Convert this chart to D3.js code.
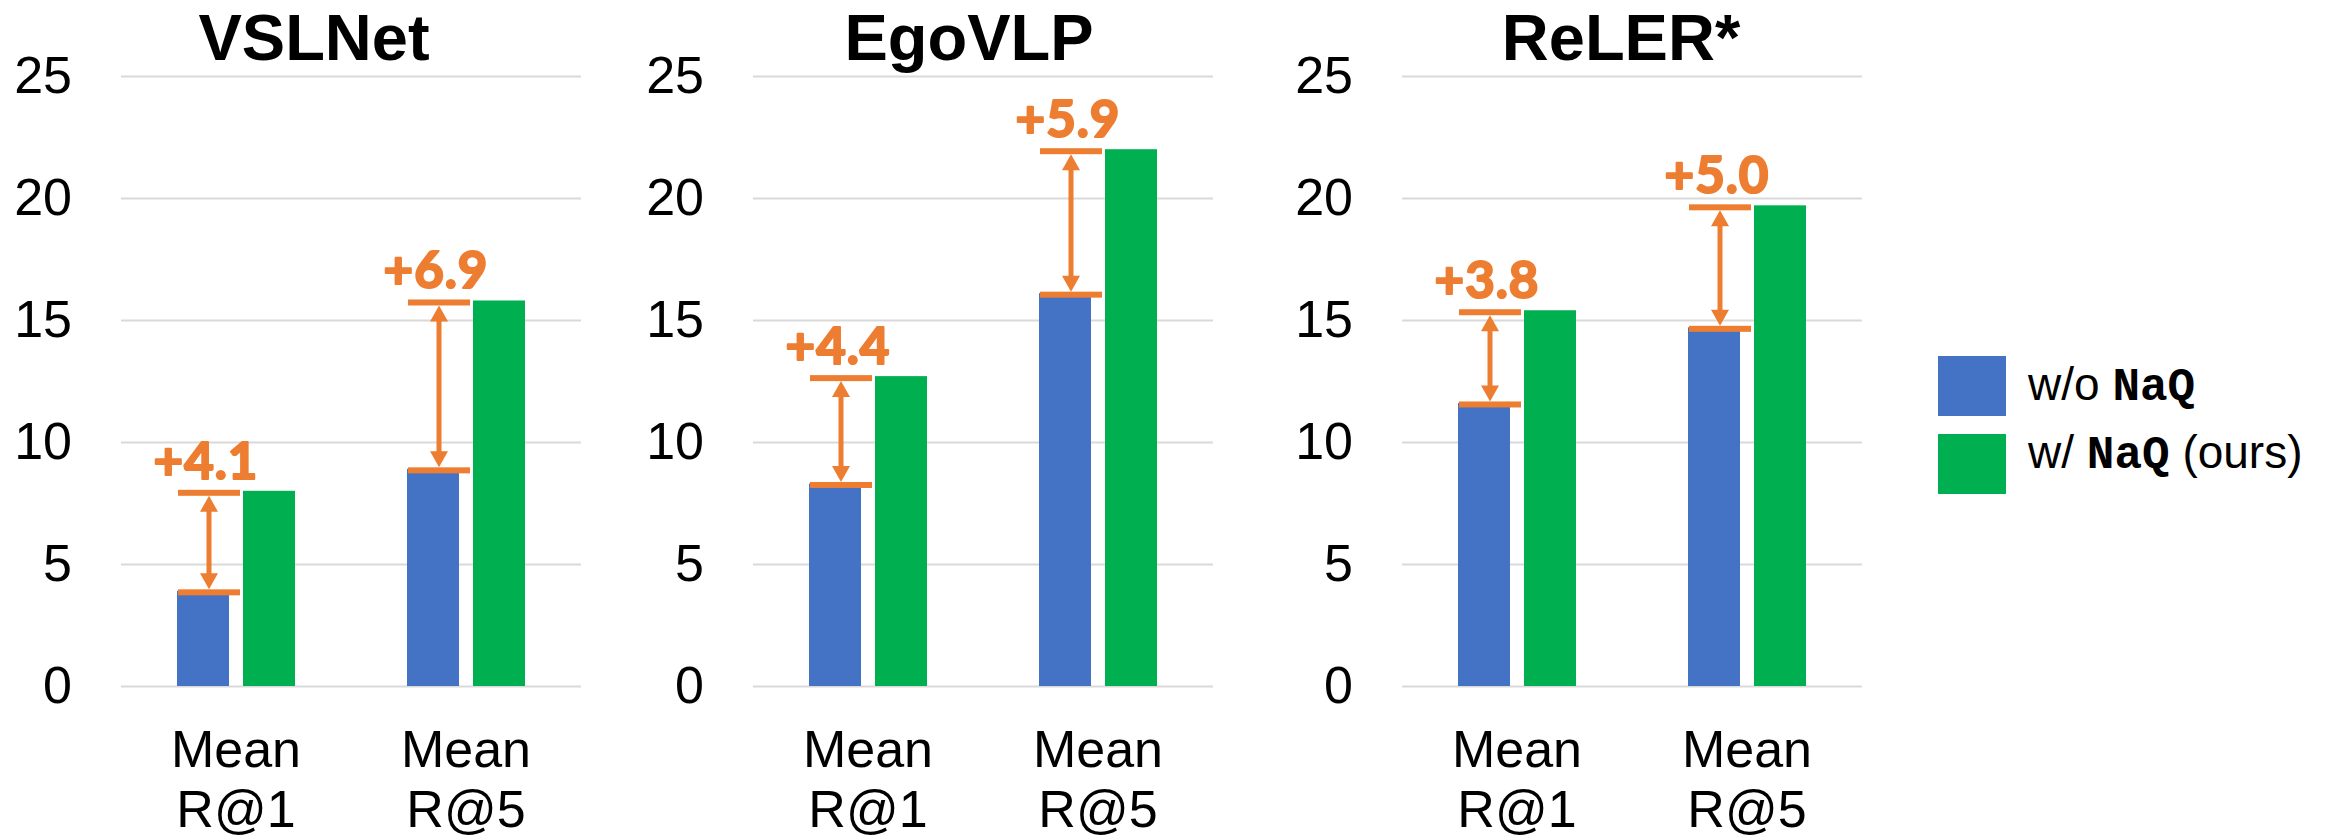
<!DOCTYPE html>
<html>
<head>
<meta charset="utf-8">
<script src="https://cdn.jsdelivr.net/npm/d3@7"></script>
<style>
  html, body { margin: 0; padding: 0; background: #ffffff; }
  svg { display: block; }
</style>
</head>
<body>
<svg id="chart" width="2334" height="839"></svg>
<script>
// ---- data ----
const models = ["VSLNet", "EgoVLP", "ReLER*"];
const metrics = ["Mean R@1", "Mean R@5"];
const seriesNames = ["w/o NaQ", "w/ NaQ (ours)"];
const withoutNaQ = [[3.9, 8.9], [8.3, 16.1], [11.6, 14.7]];
const withNaQ = [[8.0, 15.8], [12.7, 22.0], [15.4, 19.7]];
const gainLabels = [["+4.1", "+6.9"], ["+4.4", "+5.9"], ["+3.8", "+5.0"]];
const yTicks = [0, 5, 10, 15, 20, 25];

// ---- styling / layout ----
const W = 2334, H = 839;
const panelLeft = [121, 753, 1402];
const panelWidth = 460;
const titleDx = [-37, -14, -11];
const colors = { blue: "#4472C4", green: "#00B050", orange: "#ED7D31", grid: "#D9D9D9" };
const sansFont = "Arial, 'Liberation Sans', Helvetica, sans-serif";

const svg = d3.select("#chart");
svg.append("rect").attr("width", W).attr("height", H).attr("fill", "#fff");

const y = d3.scaleLinear().domain([0, 25]).range([686, 76]);
const xBand = d3.scaleBand().domain(metrics).range([0, panelWidth]).paddingInner(0).paddingOuter(0);
const groupHalf = 59;
const xInner = d3.scaleBand().domain(seriesNames)
  .range([xBand.bandwidth() / 2 - groupHalf, xBand.bandwidth() / 2 + groupHalf])
  .paddingInner(0.212).paddingOuter(0);
const seriesColor = d3.scaleOrdinal().domain(seriesNames).range([colors.blue, colors.green]);

models.forEach((model, mi) => {
  const g = svg.append("g").attr("transform", `translate(${panelLeft[mi]},0)`);

  // y axis with gridlines
  const axis = d3.axisLeft(y).tickValues(yTicks).tickSize(-panelWidth).tickPadding(49).tickFormat(d3.format("d"));
  const ag = g.append("g").call(axis);
  ag.select(".domain").remove();
  ag.selectAll(".tick line").attr("stroke", colors.grid).attr("stroke-width", 2);
  ag.selectAll(".tick text")
    .attr("fill", "#000")
    .style("font-family", sansFont)
    .style("font-size", "52px")
    .attr("dy", "0.31em");

  // title
  g.append("text")
    .attr("x", panelWidth / 2 + titleDx[mi])
    .attr("y", 60)
    .attr("text-anchor", "middle")
    .style("font-family", sansFont)
    .style("font-weight", "bold")
    .style("font-size", "65px")
    .attr("fill", "#000")
    .text(model);

  // bars
  metrics.forEach((metric, ci) => {
    const vals = [withoutNaQ[mi][ci], withNaQ[mi][ci]];
    const cg = g.append("g").attr("transform", `translate(${xBand(metric)},0)`);
    cg.selectAll("rect.bar")
      .data(seriesNames.map((s, si) => ({ s, v: vals[si] })))
      .join("rect")
      .attr("class", "bar")
      .attr("x", d => xInner(d.s))
      .attr("y", d => y(d.v))
      .attr("width", xInner.bandwidth())
      .attr("height", d => y(0) - y(d.v))
      .attr("fill", d => seriesColor(d.s));

    // category label
    const parts = metric.split(" ");
    const lbl = cg.append("text")
      .attr("text-anchor", "middle")
      .style("font-family", sansFont)
      .style("font-size", "52px")
      .attr("fill", "#000");
    lbl.append("tspan").attr("x", xBand.bandwidth() / 2).attr("y", 767).text(parts[0]);
    lbl.append("tspan").attr("x", xBand.bandwidth() / 2).attr("y", 827).text(parts[1]);

    // gain annotation
    const bl = xInner(seriesNames[0]);
    const lx0 = bl + 1, lx1 = bl + 63;
    const ax = (lx0 + lx1) / 2;
    const yLow = y(vals[0]) + 1.5;
    const yHigh = y(vals[1]) + 2;
    const th = 6;
    [yLow, yHigh].forEach(yy => {
      cg.append("rect")
        .attr("x", lx0).attr("y", yy - th / 2)
        .attr("width", lx1 - lx0).attr("height", th)
        .attr("fill", colors.orange);
    });
    const upTip = yHigh + th / 2;
    const downTip = yLow - th / 2;
    const headH = 16, headW = 18;
    cg.append("line")
      .attr("x1", ax).attr("x2", ax)
      .attr("y1", upTip + headH - 1).attr("y2", downTip - headH + 1)
      .attr("stroke", colors.orange).attr("stroke-width", 5);
    cg.append("path")
      .attr("d", `M${ax},${upTip} L${ax - headW / 2},${upTip + headH} L${ax + headW / 2},${upTip + headH} Z`)
      .attr("fill", colors.orange);
    cg.append("path")
      .attr("d", `M${ax},${downTip} L${ax - headW / 2},${downTip - headH} L${ax + headW / 2},${downTip - headH} Z`)
      .attr("fill", colors.orange);
    cg.append("text")
      .attr("x", ax - 3)
      .attr("y", yHigh - th / 2 - 11)
      .attr("text-anchor", "middle")
      .style("font-family", "Lato, 'Open Sans', sans-serif")
      .style("font-weight", "bold")
      .style("font-size", "51px")
      .style("letter-spacing", "1px")
      .attr("fill", colors.orange)
      .attr("stroke", colors.orange)
      .attr("stroke-width", 2.2)
      .attr("stroke-linejoin", "round")
      .text(gainLabels[mi][ci]);
  });
});

// legend
const legendX = 1938, legendTextX = 2028;
const legendBoxY = [356, 434];
const legendTextY = [400, 468];
seriesNames.forEach((s, i) => {
  svg.append("rect")
    .attr("x", legendX).attr("y", legendBoxY[i])
    .attr("width", 68).attr("height", 60)
    .attr("fill", seriesColor(s));
  const t = svg.append("text")
    .attr("x", legendTextX).attr("y", legendTextY[i])
    .style("font-family", sansFont)
    .style("font-size", "46px")
    .attr("fill", "#000");
  const m = s.match(/^(w\/o?) (NaQ)(.*)$/);
  t.append("tspan").text(m[1] + " ");
  t.append("tspan")
    .style("font-family", "'Courier New', 'Liberation Mono', monospace")
    .style("font-weight", "bold")
    .text(m[2]);
  if (m[3]) t.append("tspan").text(m[3]);
});
</script>
</body>
</html>
